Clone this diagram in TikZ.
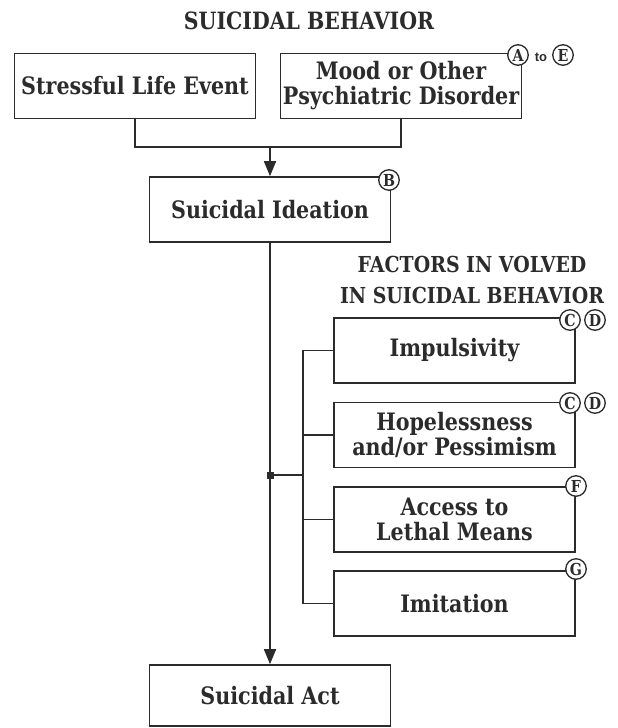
\documentclass[tikz,border=0pt]{standalone}
\usepackage{fontspec}
\setmainfont{DejaVu Serif}[FakeStretch=0.86]
\newfontfamily\tofont{Liberation Sans}
\usetikzlibrary{arrows.meta}
\definecolor{ink}{HTML}{2B2B2B}
\begin{document}
\begin{tikzpicture}[x=1pt,y=-1pt,
  box/.style={draw=ink, line width=1.6pt, rectangle, minimum width=241pt, minimum height=65pt, inner sep=0pt, align=center, font=\fontsize{24}{25}\selectfont\bfseries, text=ink},
  head/.style={align=center, font=\fontsize{22}{31}\selectfont\bfseries, text=ink},
  link/.style={draw=ink, line width=1.6pt},
  arr/.style={link, -{Triangle[length=15pt,width=12pt]}},
  badge/.style={circle, draw=ink, line width=1.3pt, fill=white, minimum size=20.5pt, inner sep=0pt, font=\fontsize{16.5}{16.5}\selectfont\bfseries, text=ink},
]
\useasboundingbox (0,0) rectangle (618,728);
\node[head, font=\fontsize{23.8}{26}\selectfont\bfseries] (title) at (309,21) {SUICIDAL BEHAVIOR};
\node[box] (s1) at (135,86) {Stressful Life Event};
\node[box] (s2) at (401,86) {Mood or Other\\Psychiatric Disorder};
\node[box] (idea) at (270,209.5) {Suicidal Ideation};
\node[box, minimum height=61pt] (act) at (270,695.5) {Suicidal Act};
\node[head] (fhead) at (472,280) {FACTORS IN VOLVED\\IN SUICIDAL BEHAVIOR};
\node[box] (imp) at (454.5,350.5) {Impulsivity};
\node[box] (hop) at (454.5,435) {Hopelessness\\and/or Pessimism};
\node[box] (acc) at (454.5,519.5) {Access to\\Lethal Means};
\node[box] (imi) at (454.5,603.5) {Imitation};
\coordinate (m) at (270,147);
\draw[link] (s1.south) |- (m) -| (s2.south);
\draw[arr] (m) -- (idea.north);
\draw[arr] (idea.south) -- (act.north);
\node[fill=ink, minimum size=7pt, inner sep=0pt] (jn) at (270,475) {};
\coordinate (bus) at (303,475);
\draw[link] (jn.center) -- (bus);
\draw[link] (imp.west) -- (imp.west -| bus) -- (imi.west -| bus) -- (imi.west);
\draw[link] (hop.west) -- (hop.west -| bus);
\draw[link] (acc.west) -- (acc.west -| bus);
\node[badge] (bA) at (518,55) {A};
\node[text=ink, font=\tofont\fontsize{13}{13}\selectfont\bfseries] (to) at (541,57) {to};
\node[badge] (bE) at (563,55) {E};
\node[badge] (bB) at (389,180) {B};
\node[badge] (bC1) at (570,320) {C};
\node[badge] (bD1) at (595,320) {D};
\node[badge] (bC2) at (570,403) {C};
\node[badge] (bD2) at (595,403) {D};
\node[badge] (bF) at (576,486) {F};
\node[badge] (bG) at (576,569) {G};
\end{tikzpicture}
\end{document}
